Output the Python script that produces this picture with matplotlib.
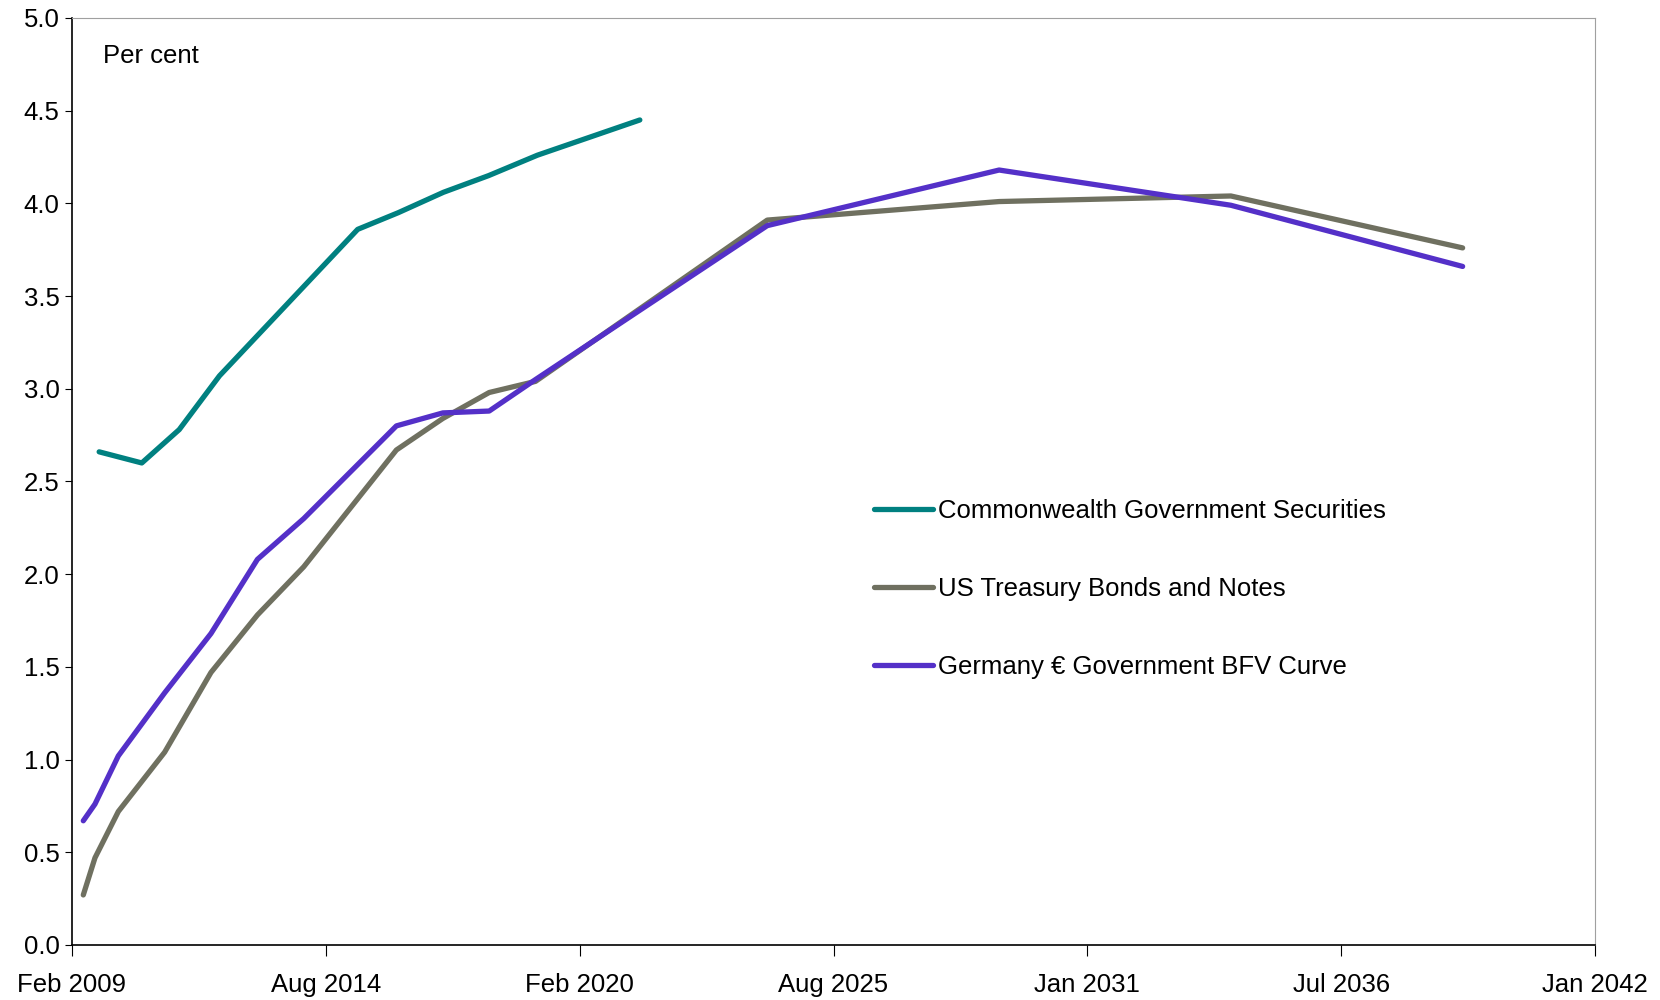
import pandas as pd
import matplotlib
matplotlib.use("Agg")
import matplotlib.pyplot as plt
import matplotlib.dates as mdates

plt.rcParams['font.family'] = ['Liberation Sans', 'DejaVu Sans']

# yield curves as at end Feb 2009
start_date = pd.Timestamp("2009-02-27")
tenor_months = [3, 6, 12, 24, 36, 48, 60, 84, 96, 108, 120, 180, 240, 300, 360]
us_yield = [0.27, 0.47, 0.72, 1.04, 1.47, 1.78, 2.04, 2.67, 2.84, 2.98, 3.04, 3.91, 4.01, 4.04, 3.76]
de_yield = [0.67, 0.76, 1.02, 1.36, 1.68, 2.08, 2.30, 2.80, 2.87, 2.88, 3.05, 3.88, 4.18, 3.99, 3.66]

cgs_dates = ["2009-09-29", "2010-08-31", "2011-06-22", "2012-05-04", "2015-04-28",
             "2016-03-13", "2017-03-04", "2018-02-23", "2019-03-14", "2021-05-29"]
cgs_yield = [2.66, 2.60, 2.78, 3.07, 3.86, 3.95, 4.06, 4.15, 4.26, 4.45]

labels = ["Commonwealth Government Securities", "US Treasury Bonds and Notes",
          "Germany \u20ac Government BFV Curve"]
colors = ["#008080", "#6f7060", "#5430c8"]

tenor_dates = [start_date + pd.DateOffset(months=m) for m in tenor_months]
cgs_dates = pd.to_datetime(cgs_dates)

fig = plt.figure(figsize=(16.6, 10), dpi=100)
ax = fig.add_axes([72 / 1660, 55 / 1000, (1595 - 72) / 1660, (945 - 18) / 1000])

lw = 3.8
ax.plot(cgs_dates, cgs_yield, color=colors[0], lw=lw, solid_capstyle='round', label=labels[0])
ax.plot(tenor_dates, us_yield, color=colors[1], lw=lw, solid_capstyle='round', label=labels[1])
ax.plot(tenor_dates, de_yield, color=colors[2], lw=lw, solid_capstyle='round', label=labels[2])

# date axis: 2000-day major unit
x_ticks = [start_date + pd.Timedelta(days=2000 * k) for k in range(7)]
ax.set_xlim(x_ticks[0], x_ticks[-1])
ax.set_xticks(x_ticks)
ax.xaxis.set_major_formatter(mdates.DateFormatter("%b %Y"))
ax.set_ylim(0, 5)
ax.set_yticks([i * 0.5 for i in range(11)])
ax.yaxis.set_major_formatter(plt.FuncFormatter(lambda v, p: f"{v:.1f}"))

fs = 18.5
ax.tick_params(axis='both', labelsize=fs, direction='out', color='black')
ax.tick_params(axis='x', length=8, pad=12)
ax.tick_params(axis='y', length=5, pad=4)

for side in ['left', 'bottom']:
    ax.spines[side].set_color('black')
    ax.spines[side].set_linewidth(1.2)
for side in ['top', 'right']:
    ax.spines[side].set_color('#a0a0a0')
    ax.spines[side].set_linewidth(0.8)

ax.text(103 / 1660, 1 - 56 / 1000, "Per cent", transform=fig.transFigure,
        fontsize=fs, va='center', ha='left')

ax.legend(loc='center left', bbox_to_anchor=(874 / 1660, 1 - 589 / 1000),
          bbox_transform=fig.transFigure, frameon=False, fontsize=fs,
          handlelength=2.3, handletextpad=0.2, labelspacing=2.12,
          borderpad=0, borderaxespad=0)

fig.savefig("out.png", dpi=100)
